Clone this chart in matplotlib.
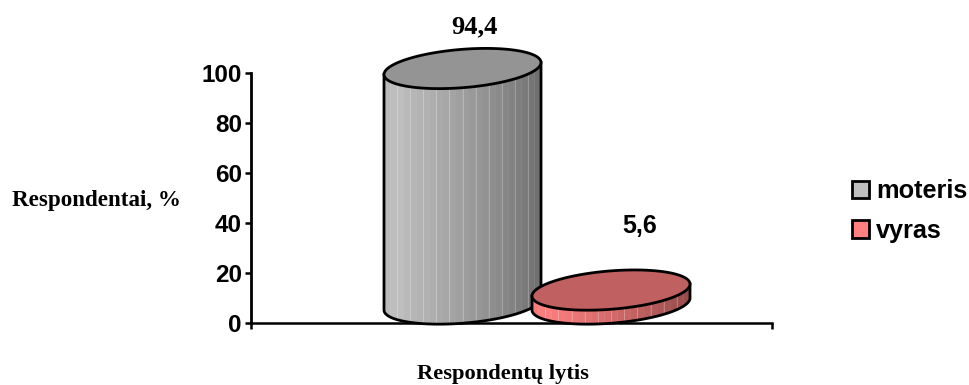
import numpy as np
import matplotlib
matplotlib.use("Agg")
import matplotlib.pyplot as plt
from matplotlib.patches import Polygon, Patch

# Datos
categorias = ['moteris', 'vyras']
valores = [94.4, 5.6]
etiquetas = ['94,4', '5,6']
ticks_y = [0, 20, 40, 60, 80, 100]

# Estilo de cada cilindro
centros = [211.5, 360.0]
radios_x = [78.5, 79.0]
colores_lado = [(0.75, 0.75, 0.75), (1.0, 0.5, 0.5)]
colores_tapa = ['#949494', '#C06060']
offset_etiqueta = [(12, 42), (29, 64)]

W, H = 969, 385
AX_L, AX_R, AX_T, AX_B = 251, 772, 73.5, 323
PX_Y = (AX_B - AX_T) / 100.0  # pixeles por unidad en y
PISO = 7.6      # altura del centro de la base sobre el eje
RY = 19.2 / PX_Y
SESGO = 6.0 / PX_Y
GROSOR = 2.0

fig = plt.figure(figsize=(W / 100, H / 100), dpi=100)
ax = fig.add_axes([AX_L / W, 1 - AX_B / H, (AX_R - AX_L) / W, (AX_B - AX_T) / H])
ax.set_xlim(0, AX_R - AX_L)
ax.set_ylim(0, 100)


def borde(cx, rx, yc, t):
    return cx + rx * np.cos(t), yc + RY * np.sin(t) + SESGO * np.cos(t)


def cilindro(cx, rx, valor, color, tapa, z):
    base = PISO
    top = PISO + valor
    n = 24
    us = np.linspace(-1, 1, n + 1)
    for i in range(n):
        # sombreado de izquierda a derecha
        f = (i + 0.5) / n
        b = 1.0 - 0.42 * f ** 1.3 if f > 0.12 else 0.97 + 0.03 * f / 0.12
        ts = 2 * np.pi - np.arccos(np.linspace(us[i], us[i + 1], 6))
        xb, yb = borde(cx, rx, base, ts)
        xt, yt = borde(cx, rx, top, ts)
        pts = np.r_[np.c_[xb, yb], np.c_[xt, yt][::-1]]
        c = tuple(v * b for v in color)
        ax.add_patch(Polygon(pts, closed=True, fc=c, ec=c, lw=0.3, zorder=z, clip_on=False))
        if i % 2 == 1 and i < n - 2:
            ax.plot([xb[-1], xt[-1]], [yb[-1], yt[-1]], color='white', lw=0.6,
                    alpha=0.3, zorder=z + 0.1, clip_on=False)
    # contorno
    t = np.linspace(np.pi, 2 * np.pi, 80)
    xb, yb = borde(cx, rx, base, t)
    xt, yt = borde(cx, rx, top, t)
    ax.plot(np.r_[xt[0], xb, xt[-1]], np.r_[yt[0], yb, yt[-1]], color='black', lw=GROSOR,
            zorder=z + 0.2, clip_on=False, solid_joinstyle='round')
    t = np.linspace(0, 2 * np.pi, 160)
    xt, yt = borde(cx, rx, top, t)
    ax.add_patch(Polygon(np.c_[xt, yt], closed=True, fc=tapa, ec='black', lw=GROSOR,
                         zorder=z + 0.3, clip_on=False))


for i in range(2):
    cilindro(centros[i], radios_x[i], valores[i], colores_lado[i], colores_tapa[i], 3 + i)

# Etiquetas de valor
ax.annotate(etiquetas[0], (centros[0], PISO + valores[0]), xytext=offset_etiqueta[0],
            textcoords='offset pixels', ha='center', va='center', fontsize=19,
            fontweight='bold', family='Liberation Serif', annotation_clip=False)
ax.annotate(etiquetas[1], (centros[1], PISO + valores[1]), xytext=offset_etiqueta[1],
            textcoords='offset pixels', ha='center', va='center', fontsize=18,
            fontweight='bold', family='Liberation Sans', annotation_clip=False)

# Ejes
for lado in ['top', 'right']:
    ax.spines[lado].set_visible(False)
ax.spines['left'].set_linewidth(2.0)
ax.spines['bottom'].set_linewidth(1.8)
ax.set_yticks(ticks_y)
ax.set_yticklabels([str(v) for v in ticks_y], fontsize=17.5, fontweight='bold',
                   family='Liberation Sans')
ax.set_xticks([0, AX_R - AX_L])
ax.set_xticklabels([])
ax.tick_params(axis='y', length=4.5, width=1.8, pad=2)
ax.tick_params(axis='x', length=4, width=1.8)
ax.patch.set_visible(False)

fig.text(96 / W, 1 - 201 / H, 'Respondentai, %', ha='center', va='center', fontsize=16.6,
         fontweight='bold', family='Liberation Serif')
fig.text(503 / W, 1 - 374 / H, 'Respondentų lytis', ha='center', va='center', fontsize=16.2,
         fontweight='bold', family='Liberation Serif')

# Leyenda
handles = [Patch(fc=colores_lado[i], ec='black', lw=GROSOR) for i in range(2)]
fig.legend(handles, categorias, loc='center left', bbox_to_anchor=(852 / W, 1 - 211 / H),
           frameon=False, prop={'family': 'Liberation Sans', 'weight': 'bold', 'size': 18.2},
           handlelength=0.68, handleheight=0.68, handletextpad=0.28, labelspacing=0.62,
           borderpad=0, borderaxespad=0)

fig.savefig('out.png', dpi=100)
